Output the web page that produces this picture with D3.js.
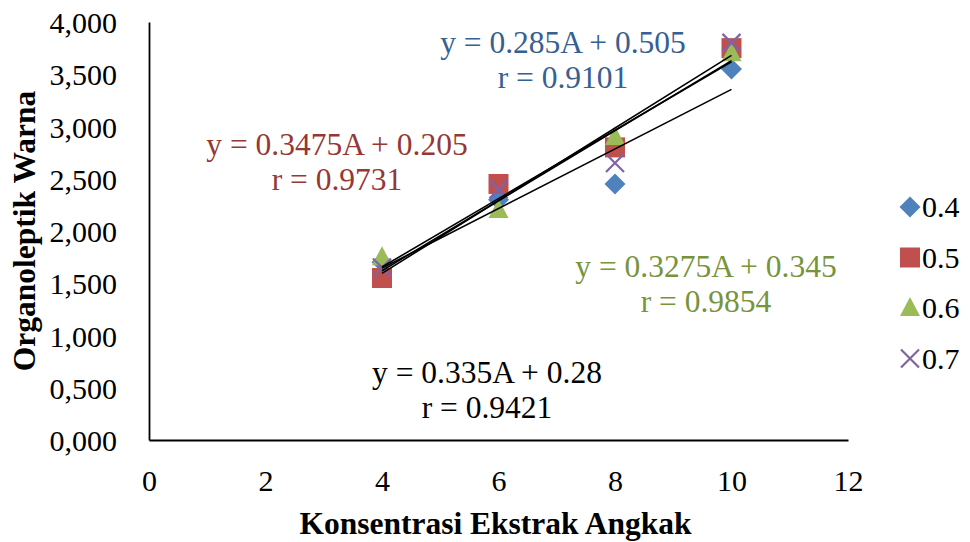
<!DOCTYPE html>
<html>
<head>
<meta charset="utf-8">
<script src="https://cdn.jsdelivr.net/npm/d3@7"></script>
<style>
  body { margin: 0; background: #fff; }
  svg text { font-family: "Liberation Serif", "Times New Roman", serif; }
</style>
</head>
<body>
<svg width="970" height="542"></svg>
<script>
// data
const concentrations = [4, 6, 8, 10];
const seriesNames = ["0.4", "0.5", "0.6", "0.7"];
const values04 = [1.70, 2.30, 2.45, 3.55];
const values05 = [1.55, 2.45, 2.80, 3.75];
const values06 = [1.75, 2.20, 2.90, 3.70];
const values07 = [1.65, 2.40, 2.65, 3.80];
const equations = ["y = 0.285A + 0.505", "y = 0.3475A + 0.205", "y = 0.3275A + 0.345", "y = 0.335A + 0.28"];
const rValues = ["r = 0.9101", "r = 0.9731", "r = 0.9854", "r = 0.9421"];
const xTicks = [0, 2, 4, 6, 8, 10, 12];
const yTicks = [0, 0.5, 1, 1.5, 2, 2.5, 3, 3.5, 4];

const svg = d3.select("svg"),
      margin = {top: 22, right: 122, bottom: 102, left: 149},
      width = +svg.attr("width") - margin.left - margin.right,
      height = +svg.attr("height") - margin.top - margin.bottom;

const g = svg.append("g").attr("transform", `translate(${margin.left},${margin.top})`);

const x = d3.scaleLinear().domain([0, 12]).range([0, width]);
const y = d3.scaleLinear().domain([0, 4]).range([height, 0]);

const fill = ["#4F81BD", "#C0504D", "#9BBB59", "#8064A2"];
const textColor = ["#376092", "#953735", "#77933C", "#000"];
const allValues = [values04, values05, values06, values07];

const series = seriesNames.map((name, i) => ({
  name: name,
  points: concentrations.map((c, j) => ({x: c, y: allValues[i][j]}))
}));

// yaxis label format 4,000 (comma decimal)
const fmt = v => d3.format(".3f")(v).replace(".", ",");

// axes
const xAxis = g.append("g")
  .attr("transform", `translate(0,${height})`)
  .call(d3.axisBottom(x).tickValues(xTicks).tickSize(0).tickPadding(30).tickFormat(d3.format("d")));
xAxis.select(".domain").attr("stroke", "#000").attr("stroke-width", 1.8);
xAxis.selectAll("text").style("font-size", "30px").attr("fill", "#000");

const yAxis = g.append("g")
  .call(d3.axisLeft(y).tickValues(yTicks).tickSize(0).tickPadding(32).tickFormat(fmt));
yAxis.select(".domain").attr("stroke", "#000").attr("stroke-width", 1.8);
yAxis.selectAll("text").style("font-size", "30px").attr("fill", "#000").attr("dy", "0.35em");

svg.append("text")
  .attr("x", margin.left + x(6) - 3)
  .attr("y", 534)
  .attr("text-anchor", "middle")
  .style("font-size", "31.5px")
  .style("font-weight", "bold")
  .text("Konsentrasi Ekstrak Angkak");

svg.append("text")
  .attr("transform", "rotate(-90)")
  .attr("x", -(margin.top + height / 2) + 0)
  .attr("y", 35)
  .attr("text-anchor", "middle")
  .style("font-size", "31.5px")
  .style("font-weight", "bold")
  .text("Organoleptik Warna");

// markers
function marker(sel, i) {
  if (i === 0) {
    sel.append("path").attr("d", "M0,-10.5L10.5,0L0,10.5L-10.5,0Z").attr("fill", fill[i]);
  } else if (i === 1) {
    sel.append("rect").attr("x", -10).attr("y", -10).attr("width", 20).attr("height", 20).attr("fill", fill[i]);
  } else if (i === 2) {
    sel.append("path").attr("d", "M0,-11L10,8L-10,8Z").attr("fill", fill[i]);
  } else {
    sel.append("path").attr("d", "M-9,-9L9,9M-9,9L9,-9").attr("stroke", fill[i]).attr("stroke-width", 2.2).attr("fill", "none");
  }
}

series.forEach((s, i) => {
  g.append("g")
    .selectAll("g")
    .data(s.points)
    .join("g")
    .attr("transform", d => `translate(${x(d.x)},${y(d.y)})`)
    .each(function() { marker(d3.select(this), i); });
});

// linear trendlines
function fit(points) {
  const mx = d3.mean(points, d => d.x), my = d3.mean(points, d => d.y);
  const b = d3.sum(points, d => (d.x - mx) * (d.y - my)) / d3.sum(points, d => (d.x - mx) ** 2);
  return {b: b, a: my - b * mx};
}

const line = d3.line().x(d => x(d.x)).y(d => y(d.y));
series.forEach(s => {
  const f = fit(s.points);
  const ext = d3.extent(s.points, d => d.x);
  g.append("path")
    .datum(ext.map(v => ({x: v, y: f.a + f.b * v})))
    .attr("d", line)
    .attr("fill", "none")
    .attr("stroke", "#000")
    .attr("stroke-width", 1.6);
});

// equation labels
const labelPos = [[563, 42], [337, 144], [706, 266], [487, 372]];
equations.forEach((eq, i) => {
  const t = svg.append("text")
    .attr("text-anchor", "middle")
    .attr("fill", textColor[i])
    .style("font-size", "31.5px");
  t.append("tspan").attr("x", labelPos[i][0]).attr("y", labelPos[i][1] + 11).text(eq);
  t.append("tspan").attr("x", labelPos[i][0]).attr("y", labelPos[i][1] + 46).text(rValues[i]);
});

// legend
const legend = svg.append("g").attr("transform", "translate(910,207)");
seriesNames.forEach((name, i) => {
  const row = legend.append("g").attr("transform", `translate(0,${i * 50.5})`);
  marker(row, i);
  row.append("text")
    .attr("x", 12)
    .attr("y", 10)
    .style("font-size", "30px")
    .text(name);
});
</script>
</body>
</html>
